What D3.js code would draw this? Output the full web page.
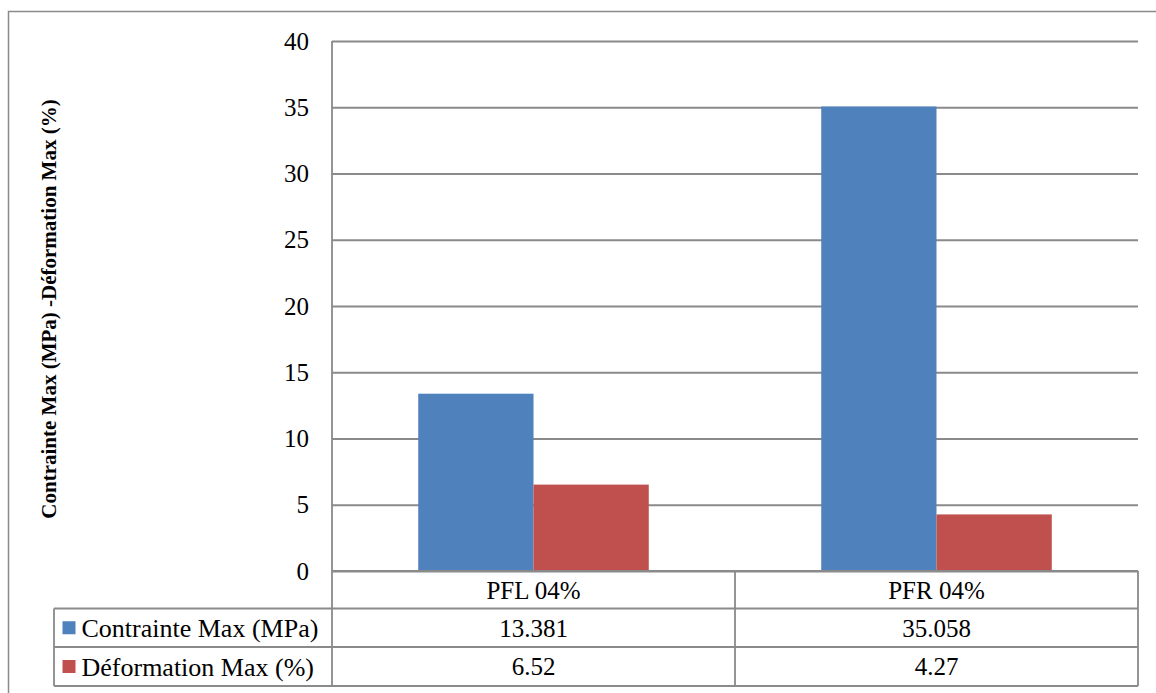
<!DOCTYPE html>
<html><head><meta charset="utf-8">
<script src="https://cdn.jsdelivr.net/npm/d3@7/dist/d3.min.js"></script>
<style>body{margin:0;background:#fff}svg{display:block}</style>
</head><body>
<svg id="c" width="1156" height="693" font-family="Liberation Serif"></svg>
<script>
const categories = ["PFL 04%", "PFR 04%"];
const seriesNames = ["Contrainte Max (MPa)", "Déformation Max (%)"];
const contrainte = [13.381, 35.058];
const deformation = [6.52, 4.27];
const tableLabels = [["13.381", "35.058"], ["6.52", "4.27"]];
const yTicks = [0, 5, 10, 15, 20, 25, 30, 35, 40];
const colors = ["#4F81BD", "#C0504D"];

const svg = d3.select("#c");
const FONT = "Liberation Serif";
const grid = "#8a8a8a";

svg.append("rect").attr("x", 8.5).attr("y", 11.5).attr("width", 1160).attr("height", 700)
  .attr("fill", "none").attr("stroke", "#8a8a8a").attr("stroke-width", 1.5);

const L = 332, R = 1138, T = 41, B = 571;
const x = d3.scaleBand().domain(categories).range([L, R]).paddingInner(0).paddingOuter(0);
const y = d3.scaleLinear().domain([0, 40]).range([B, T]);
const xs = d3.scaleBand().domain([0, 1]).range([0, x.bandwidth()]).paddingOuter(0.748).paddingInner(0);

const yAxis = d3.axisLeft(y).tickValues(yTicks).tickSize(-(R - L)).tickFormat(d3.format("d")).tickPadding(23);
const ga = svg.append("g").attr("transform", `translate(${L},0)`).call(yAxis);
ga.attr("font-family", FONT).attr("font-size", 25);
ga.select(".domain").remove();
ga.selectAll(".tick line").attr("stroke", grid).attr("stroke-width", 1.8).attr("x1", 0);
ga.selectAll(".tick text").attr("font-family", FONT).attr("font-size", 25).attr("fill", "#000").attr("dy", "0.32em");

svg.append("line").attr("x1", L).attr("x2", L).attr("y1", T).attr("y2", B).attr("stroke", grid).attr("stroke-width", 1.8);

const series = [contrainte, deformation];
series.forEach((vals, si) => {
  svg.append("g").selectAll("rect").data(categories).join("rect")
    .attr("x", (c) => x(c) + xs(si))
    .attr("width", xs.bandwidth())
    .attr("y", (c, i) => y(vals[i]))
    .attr("height", (c, i) => B - y(vals[i]))
    .attr("fill", colors[si]);
});
svg.append("line").attr("x1", L).attr("x2", R).attr("y1", B).attr("y2", B).attr("stroke", grid).attr("stroke-width", 1.8);

const rowsY = [571, 608.5, 647, 686];
const tableLeft = 54;
const tg = svg.append("g").attr("font-family", FONT);
const ln = (x1, y1, x2, y2) => tg.append("line").attr("x1", x1).attr("y1", y1).attr("x2", x2).attr("y2", y2)
  .attr("stroke", grid).attr("stroke-width", 1.8);
ln(L, rowsY[0], R, rowsY[0]);
ln(tableLeft, rowsY[1], R, rowsY[1]);
ln(tableLeft, rowsY[2], R, rowsY[2]);
ln(tableLeft, rowsY[3], R, rowsY[3]);
ln(tableLeft, rowsY[1], tableLeft, rowsY[3]);
ln(L, rowsY[0], L, rowsY[3]);
categories.forEach(c => ln(x(c) + x.bandwidth(), rowsY[0], x(c) + x.bandwidth(), rowsY[3]));

tg.selectAll("text.cat").data(categories).join("text").attr("class", "cat")
  .attr("x", c => x(c) + x.bandwidth() / 2).attr("y", (rowsY[0] + rowsY[1]) / 2)
  .attr("dy", "0.35em").attr("text-anchor", "middle")
  .attr("font-family", FONT).attr("font-size", 25).text(c => c);

seriesNames.forEach((name, si) => {
  const cy = (rowsY[si + 1] + rowsY[si + 2]) / 2;
  tg.append("rect").attr("x", 62.5).attr("y", cy - 6.5).attr("width", 13).attr("height", 13).attr("fill", colors[si]);
  tg.append("text").attr("x", 81.5).attr("y", cy).attr("dy", "0.35em")
    .attr("font-family", FONT).attr("font-size", 26).text(name);
  tg.selectAll(null).data(categories).join("text")
    .attr("x", c => x(c) + x.bandwidth() / 2).attr("y", cy).attr("dy", "0.35em")
    .attr("text-anchor", "middle").attr("font-family", FONT).attr("font-size", 25)
    .text((c, i) => tableLabels[si][i]);
});

svg.append("text").attr("transform", `translate(56,309) rotate(-90)`)
  .attr("text-anchor", "middle")
  .attr("font-family", FONT).attr("font-weight", "bold").attr("font-size", 21)
  .text("Contrainte Max (MPa) -Déformation Max (%)");
</script>
</body></html>
